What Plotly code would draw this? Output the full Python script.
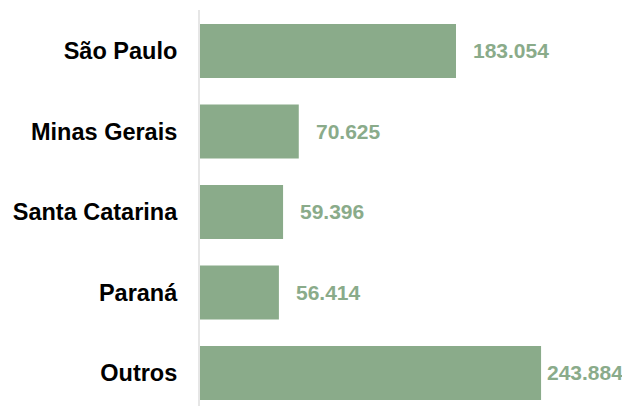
import plotly.graph_objects as go

categories = ["São Paulo", "Minas Gerais", "Santa Catarina", "Paraná", "Outros"]
values = [183054, 70625, 59396, 56414, 243884]
value_labels = [f"{v:,}".replace(",", ".") for v in values]

BAR = "#8aab8a"

fig = go.Figure(go.Bar(
    y=categories, x=values, orientation="h",
    marker=dict(color=BAR, line=dict(width=0)),
    width=0.67, hoverinfo="skip",
))

shifts = [15, 15, 15, 15, 4]
for c, v, t, s in zip(categories, values, value_labels, shifts):
    fig.add_annotation(x=v, y=c, text=f"<b>{t}</b>", showarrow=False,
                       xanchor="left", yanchor="middle", xshift=s,
                       font=dict(family="Liberation Sans, Arial", size=21, color=BAR))

fig.update_layout(
    width=622, height=398,
    margin=dict(l=192, r=0, t=2, b=0, autoexpand=False),
    paper_bgcolor="white", plot_bgcolor="white",
    showlegend=False,
    bargap=0.33,
)
fig.update_xaxes(range=[0, 307470], visible=False, showgrid=False, zeroline=False,
                 automargin=False)
fig.update_yaxes(
    categoryorder="array", categoryarray=categories,
    range=[4.41, -0.509], autorange=False, automargin=False,
    showline=True, linecolor="#e6e6e6", linewidth=2,
    showgrid=False, zeroline=False, ticks="",
    ticklabelstandoff=16,
    tickfont=dict(family="Liberation Sans, Arial", size=23.5, color="black", weight="bold"),
)

fig.write_html("out.html")
